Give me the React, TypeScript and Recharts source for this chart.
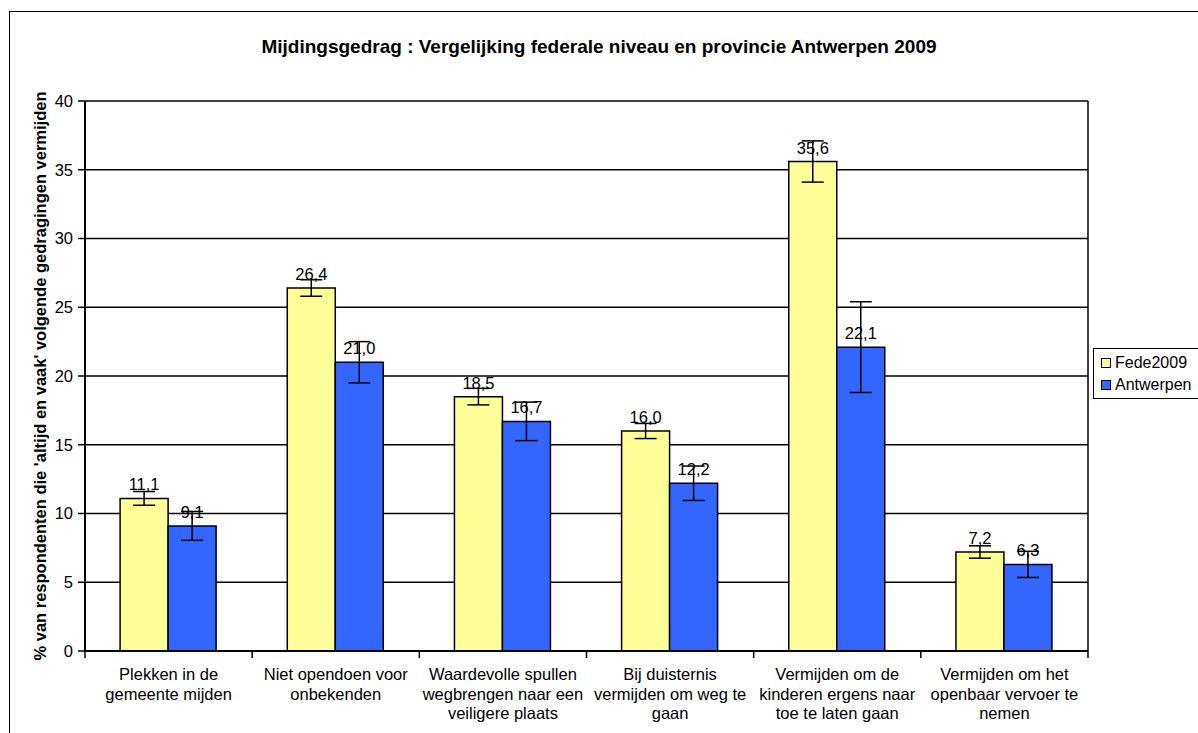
import {
  Bar,
  BarChart,
  CartesianGrid,
  ErrorBar,
  LabelList,
  XAxis,
  YAxis,
} from "recharts";

const categories = [
  "Plekken in de\ngemeente mijden",
  "Niet opendoen voor\nonbekenden",
  "Waardevolle spullen\nwegbrengen naar een\nveiligere plaats",
  "Bij duisternis\nvermijden om weg te\ngaan",
  "Vermijden om de\nkinderen ergens naar\ntoe te laten gaan",
  "Vermijden om het\nopenbaar vervoer te\nnemen",
];
const fede2009 = [11.1, 26.4, 18.5, 16.0, 35.6, 7.2];
const fedeError = [0.5, 0.6, 0.6, 0.55, 1.5, 0.45];
const antwerpen = [9.1, 21.0, 16.7, 12.2, 22.1, 6.3];
const antwerpenError = [1.05, 1.5, 1.4, 1.25, 3.3, 0.95];
const yTicks = [0, 5, 10, 15, 20, 25, 30, 35, 40];

const data = categories.map((name, i) => ({
  name,
  fede: fede2009[i],
  fedeErr: fedeError[i],
  antw: antwerpen[i],
  antwErr: antwerpenError[i],
}));

const FONT = "'Liberation Sans', Arial, sans-serif";
const FS = 16.5;
const PLOT_LEFT = 85;
const PLOT_RIGHT = 1088;
const BAND = (PLOT_RIGHT - PLOT_LEFT) / categories.length;

const fmt = (v: any) => Number(v).toFixed(1).replace(".", ",");

function CategoryTick(props: any) {
  const { x, y, payload } = props;
  const lines = String(payload.value).split("\n");
  return (
    <g>
      <line x1={x - BAND / 2} y1={y - 8} x2={x - BAND / 2} y2={y - 1} stroke="#000" strokeWidth={1.5} />
      {payload.index === categories.length - 1 && (
        <line x1={x + BAND / 2} y1={y - 8} x2={x + BAND / 2} y2={y - 1} stroke="#000" strokeWidth={1.5} />
      )}
      {lines.map((l: string, i: number) => (
        <text
          key={i}
          x={x}
          y={y + 21 + i * 19.5}
          textAnchor="middle"
          fontSize={FS}
          fontFamily={FONT}
          fill="#000"
        >
          {l}
        </text>
      ))}
    </g>
  );
}

export default function App() {
  return (
    <div style={{ position: "absolute", left: 0, top: 0, width: 1198, height: 733, overflow: "hidden", background: "#fff" }}>
      {/* Outer frame */}
      <div
        style={{
          position: "absolute",
          left: 9,
          top: 11,
          width: 1200,
          height: 730,
          border: "1.5px solid #000",
        }}
      />

      {/* Title */}
      <div
        style={{
          position: "absolute",
          left: 0,
          width: 1198,
          top: 36,
          textAlign: "center",
          fontFamily: FONT,
          fontWeight: "bold",
          fontSize: 19,
        }}
      >
        Mijdingsgedrag : Vergelijking federale niveau en provincie Antwerpen 2009
      </div>

      {/* Y axis title */}
      <div
        style={{
          position: "absolute",
          left: 40,
          top: 376,
          transform: "translate(-50%, -50%) rotate(-90deg)",
          whiteSpace: "nowrap",
          fontFamily: FONT,
          fontWeight: "bold",
          fontSize: FS,
        }}
      >
        % van respondenten die 'altijd en vaak' volgende gedragingen vermijden
      </div>

      <div style={{ position: "absolute", left: 0, top: 0 }}>
        <BarChart
          width={1198}
          height={733}
          data={data}
          margin={{ top: 101, right: 110, bottom: 22, left: 40 }}
          barGap={0}
          barCategoryGap="21%"
        >
          <CartesianGrid
            stroke="#000"
            strokeWidth={1.5}
            verticalPoints={[PLOT_LEFT, PLOT_RIGHT]}
          />
          <XAxis
            dataKey="name"
            height={60}
            interval={0}
            axisLine={{ stroke: "#000", strokeWidth: 2 }}
            tickLine={false}
            tick={<CategoryTick />}
          />
          <YAxis
            width={45}
            domain={[0, 40]}
            ticks={yTicks}
            interval={0}
            axisLine={{ stroke: "#000", strokeWidth: 2 }}
            tickLine={{ stroke: "#000", strokeWidth: 1.5 }}
            tickSize={7}
            tickMargin={5}
            tick={{ fill: "#000", fontSize: FS, fontFamily: FONT }}
          />
          <Bar dataKey="fede" fill="#FFFF99" stroke="#000" strokeWidth={1.5} isAnimationActive={false}>
            <ErrorBar dataKey="fedeErr" width={11} stroke="#000" strokeWidth={1.5} />
            <LabelList
              dataKey="fede"
              position="top"
              offset={8}
              formatter={fmt}
              style={{ fill: "#000", fontSize: FS, fontFamily: FONT }}
            />
          </Bar>
          <Bar dataKey="antw" fill="#3366FF" stroke="#000" strokeWidth={1.5} isAnimationActive={false}>
            <ErrorBar dataKey="antwErr" width={11} stroke="#000" strokeWidth={1.5} />
            <LabelList
              dataKey="antw"
              position="top"
              offset={8}
              formatter={fmt}
              style={{ fill: "#000", fontSize: FS, fontFamily: FONT }}
            />
          </Bar>
        </BarChart>
      </div>

      {/* Legend */}
      <div
        style={{
          position: "absolute",
          left: 1093,
          top: 348,
          width: 110,
          height: 51,
          border: "1.5px solid #000",
          fontFamily: FONT,
          fontSize: 16,
          boxSizing: "border-box",
          paddingTop: 3,
          paddingLeft: 7,
        }}
      >
        {[
          { label: "Fede2009", color: "#FFFF99" },
          { label: "Antwerpen", color: "#3366FF" },
        ].map((it) => (
          <div key={it.label} style={{ display: "flex", alignItems: "center", height: 22 }}>
            <span
              style={{
                display: "inline-block",
                width: 8,
                height: 8,
                background: it.color,
                border: "1.5px solid #000",
                marginRight: 4,
              }}
            />
            {it.label}
          </div>
        ))}
      </div>
    </div>
  );
}
